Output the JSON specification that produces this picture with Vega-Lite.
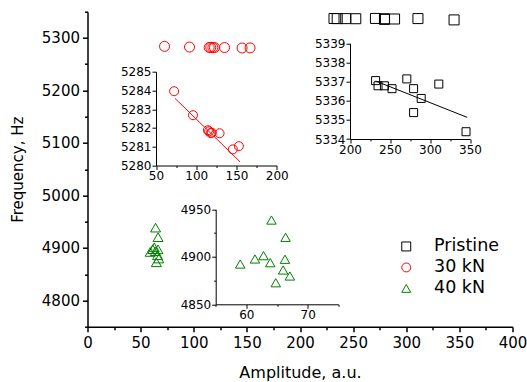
{
  "$schema": "https://vega.github.io/schema/vega-lite/v6.json",
  "width": 425,
  "height": 315,
  "autosize": {"type": "none"},
  "padding": {"left": 87.5, "top": 11.7, "right": 14.5, "bottom": 55.3},
  "background": "white",
  "config": {
    "view": {"stroke": null},
    "font": "DejaVu Sans",
    "axis": {"grid": false, "domainColor": "#000", "tickColor": "#000", "labelColor": "#000", "titleColor": "#000", "labelFont": "DejaVu Sans", "titleFont": "DejaVu Sans", "titleFontWeight": "normal", "labelFlush": false, "labelOverlap": false, "labelBound": false, "format": "d"},
    "legend": {"labelFont": "DejaVu Sans", "labelColor": "#000"}
  },
  "datasets": {
    "pts": [
      {"series": "Pristine", "amp": 232, "freq": 5337.05},
      {"series": "Pristine", "amp": 235, "freq": 5336.78},
      {"series": "Pristine", "amp": 243, "freq": 5336.78},
      {"series": "Pristine", "amp": 252.5, "freq": 5336.63},
      {"series": "Pristine", "amp": 271, "freq": 5337.14},
      {"series": "Pristine", "amp": 279.5, "freq": 5336.63},
      {"series": "Pristine", "amp": 289, "freq": 5336.12},
      {"series": "Pristine", "amp": 279.5, "freq": 5335.38},
      {"series": "Pristine", "amp": 311, "freq": 5336.87},
      {"series": "Pristine", "amp": 345, "freq": 5334.38},
      {"series": "30 kN", "amp": 72.5, "freq": 5283.96},
      {"series": "30 kN", "amp": 96, "freq": 5282.68},
      {"series": "30 kN", "amp": 114.5, "freq": 5281.88},
      {"series": "30 kN", "amp": 116, "freq": 5281.82},
      {"series": "30 kN", "amp": 118, "freq": 5281.73},
      {"series": "30 kN", "amp": 119.5, "freq": 5281.75},
      {"series": "30 kN", "amp": 129, "freq": 5281.72},
      {"series": "30 kN", "amp": 145.5, "freq": 5280.86},
      {"series": "30 kN", "amp": 153, "freq": 5281.03},
      {"series": "40 kN", "amp": 59, "freq": 4892.4},
      {"series": "40 kN", "amp": 61.4, "freq": 4897.7},
      {"series": "40 kN", "amp": 62.8, "freq": 4901.2},
      {"series": "40 kN", "amp": 63.9, "freq": 4893.8},
      {"series": "40 kN", "amp": 64.1, "freq": 4938.7},
      {"series": "40 kN", "amp": 64.8, "freq": 4872.7},
      {"series": "40 kN", "amp": 66.0, "freq": 4886.1},
      {"series": "40 kN", "amp": 66.3, "freq": 4897.4},
      {"series": "40 kN", "amp": 66.4, "freq": 4920.5},
      {"series": "40 kN", "amp": 67.1, "freq": 4879.8}
    ],
    "fits": [
      {"series": "Pristine", "amp": 232, "freq": 5337.03},
      {"series": "Pristine", "amp": 346.5, "freq": 5335.13},
      {"series": "30 kN", "amp": 73.6, "freq": 5283.58},
      {"series": "30 kN", "amp": 154.4, "freq": 5280.2}
    ]
  },
  "layer": [
    {
      "data": {"name": "pts"},
      "mark": {"type": "point", "filled": false, "strokeWidth": 1, "size": 100, "opacity": 1},
      "encoding": {
        "x": {"field": "amp", "type": "quantitative",
          "scale": {"domain": [0, 400], "range": [0, 425], "nice": false, "zero": false},
          "axis": {"orient": "bottom", "title": "Amplitude, a.u.", "values": [0,25,50,75,100,125,150,175,200,225,250,275,300,325,350,375,400],
            "labelExpr": "datum.value % 50 === 0 ? datum.label : ''",
            "tickSize": {"condition": {"test": "datum.value % 50 === 0", "value": 5}, "value": 3},
            "labelFontSize": 15, "titleFontSize": 16, "titleY": 51, "titleBaseline": "alphabetic",
            "domainWidth": 1.5, "tickWidth": 1.5, "labelPadding": 4}},
        "y": {"field": "freq", "type": "quantitative",
          "scale": {"domain": [4750, 5350], "range": [315, 0], "nice": false, "zero": false},
          "axis": {"orient": "left", "title": "Frequency, Hz", "values": [4750,4800,4850,4900,4950,5000,5050,5100,5150,5200,5250,5300,5350],
            "labelExpr": "datum.value % 100 === 0 ? datum.label : ''",
            "tickSize": {"condition": {"test": "datum.value % 100 === 0", "value": 5}, "value": 3},
            "labelFontSize": 15, "titleFontSize": 15, "titleX": -62, "titleY": 157.5, "titleAngle": 270, "titleBaseline": "bottom",
            "domainWidth": 1.5, "tickWidth": 1.5, "labelPadding": 3}},
        "color": {"field": "series", "type": "nominal",
          "scale": {"domain": ["Pristine", "30 kN", "40 kN"], "range": ["#000000", "#ff0000", "#008000"]},
          "legend": {"title": null, "orient": "none", "legendX": 310, "legendY": 226, "padding": 0, "labelFontSize": 17.5, "symbolSize": 80, "symbolStrokeWidth": 1, "rowPadding": 2, "labelOffset": 19}},
        "shape": {"field": "series", "type": "nominal",
          "scale": {"domain": ["Pristine", "30 kN", "40 kN"], "range": ["square", "circle", "triangle-up"]},
          "legend": {"title": null, "orient": "none", "legendX": 310, "legendY": 226, "padding": 0, "labelFontSize": 17.5, "symbolSize": 80, "symbolStrokeWidth": 1, "rowPadding": 2, "labelOffset": 19}}
      }
    },
    {
      "layer": [
        {
          "data": {"name": "pts"},
          "transform": [{"filter": "datum.series === 'Pristine'"}],
          "mark": {"type": "point", "shape": "square", "filled": false, "color": "#000000", "strokeWidth": 1, "size": 64, "opacity": 1},
          "encoding": {
            "x": {"field": "amp", "type": "quantitative",
              "scale": {"domain": [200, 350], "range": [262.5, 382.5], "nice": false, "zero": false},
              "axis": {"orient": "bottom", "offset": -187.7, "title": null, "values": [200,225,250,275,300,325,350],
                "labelExpr": "datum.value % 50 === 0 ? datum.label : ''",
                "tickSize": {"condition": {"test": "datum.value % 50 === 0", "value": 4}, "value": 2},
                "labelFontSize": 12, "labelPadding": 1, "domainWidth": 1, "tickWidth": 1}},
            "y": {"field": "freq", "type": "quantitative",
              "scale": {"domain": [5334, 5339], "range": [127.3, 31.6], "nice": false, "zero": false},
              "axis": {"orient": "left", "offset": -262.5, "title": null, "values": [5334,5335,5336,5337,5338,5339],
                "tickSize": 4, "labelFontSize": 12, "labelPadding": 1, "domainWidth": 1, "tickWidth": 1}}
          }
        },
        {
          "data": {"name": "fits"},
          "transform": [{"filter": "datum.series === 'Pristine'"}],
          "mark": {"type": "line", "color": "#000000", "strokeWidth": 1},
          "encoding": {
            "x": {"field": "amp", "type": "quantitative"},
            "y": {"field": "freq", "type": "quantitative"}
          }
        }
      ]
    },
    {
      "layer": [
        {
          "data": {"name": "pts"},
          "transform": [{"filter": "datum.series === '30 kN'"}],
          "mark": {"type": "point", "shape": "circle", "filled": false, "color": "#ff0000", "strokeWidth": 1, "size": 81, "opacity": 1},
          "encoding": {
            "x": {"field": "amp", "type": "quantitative",
              "scale": {"domain": [50, 200], "range": [68.5, 189.2], "nice": false, "zero": false},
              "axis": {"orient": "bottom", "offset": -161.2, "title": null, "values": [50,75,100,125,150,175,200],
                "labelExpr": "datum.value % 50 === 0 ? datum.label : ''",
                "tickSize": {"condition": {"test": "datum.value % 50 === 0", "value": 4}, "value": 2},
                "labelFontSize": 12, "labelPadding": 1, "domainWidth": 1, "tickWidth": 1}},
            "y": {"field": "freq", "type": "quantitative",
              "scale": {"domain": [5280, 5285], "range": [153.8, 60], "nice": false, "zero": false},
              "axis": {"orient": "left", "offset": -68.5, "title": null, "values": [5280,5281,5282,5283,5284,5285],
                "tickSize": 4, "labelFontSize": 12, "labelPadding": 1, "domainWidth": 1, "tickWidth": 1}}
          }
        },
        {
          "data": {"name": "fits"},
          "transform": [{"filter": "datum.series === '30 kN'"}],
          "mark": {"type": "line", "color": "#ff0000", "strokeWidth": 1},
          "encoding": {
            "x": {"field": "amp", "type": "quantitative"},
            "y": {"field": "freq", "type": "quantitative"}
          }
        }
      ]
    },
    {
      "data": {"name": "pts"},
      "transform": [{"filter": "datum.series === '40 kN'"}],
      "mark": {"type": "point", "shape": "triangle-up", "filled": false, "color": "#008000", "strokeWidth": 1, "size": 90, "opacity": 1},
      "encoding": {
        "x": {"field": "amp", "type": "quantitative",
          "scale": {"domain": [55, 75], "range": [128.2, 250.8], "nice": false, "zero": false},
          "axis": {"orient": "bottom", "offset": -22.4, "title": null, "values": [55,60,65,70,75],
            "labelExpr": "datum.value % 10 === 0 ? datum.label : ''",
            "tickSize": {"condition": {"test": "datum.value % 10 === 0", "value": 4}, "value": 2},
            "labelFontSize": 12, "labelPadding": 1, "domainWidth": 1, "tickWidth": 1}},
        "y": {"field": "freq", "type": "quantitative",
          "scale": {"domain": [4850, 4950], "range": [292.6, 197.6], "nice": false, "zero": false},
          "axis": {"orient": "left", "offset": -128.2, "title": null, "values": [4850,4875,4900,4925,4950],
            "labelExpr": "datum.value % 50 === 0 ? datum.label : ''",
            "tickSize": {"condition": {"test": "datum.value % 50 === 0", "value": 4}, "value": 2},
            "labelFontSize": 12, "labelPadding": 1, "domainWidth": 1, "tickWidth": 1}}
      }
    }
  ],
  "resolve": {"scale": {"x": "independent", "y": "independent"}, "axis": {"x": "independent", "y": "independent"}}
}
